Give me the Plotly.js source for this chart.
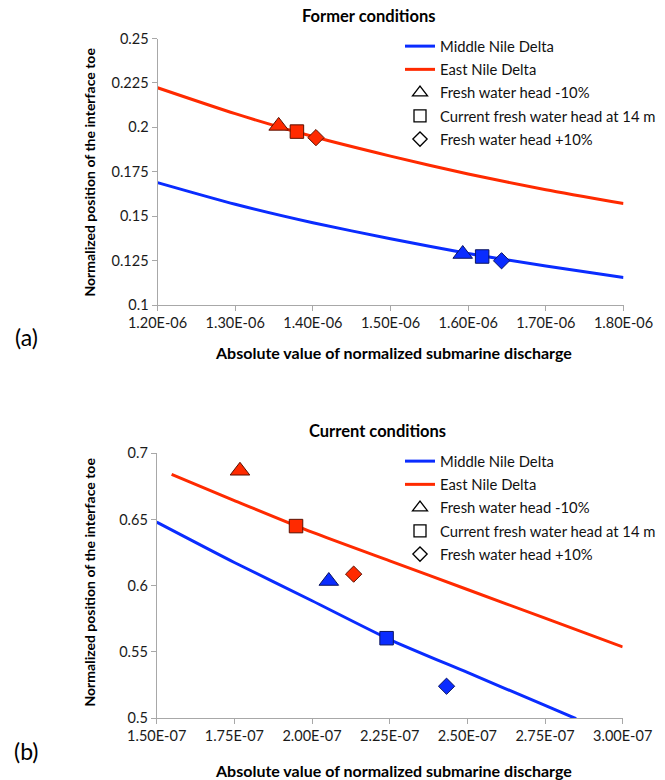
<!DOCTYPE html>
<html>
<head>
<meta charset="utf-8">
<script src="https://cdn.plot.ly/plotly-3.0.1.min.js"></script>
<style>
  html, body { margin: 0; padding: 0; background: #ffffff; }
  #chart { width: 665px; height: 780px; }
</style>
</head>
<body>
<div id="chart"></div>
<script>
// ---------- DATA ----------
// (a) Former conditions: discharge (x) and normalized toe position (y)
var formerCurveX = [1.20e-6, 1.30e-6, 1.40e-6, 1.50e-6, 1.60e-6, 1.70e-6, 1.80e-6];
var formerMiddleY = [0.1689, 0.1567, 0.1463, 0.1373, 0.1290, 0.1219, 0.1155];
var formerEastY   = [0.2223, 0.2077, 0.1948, 0.1838, 0.1737, 0.1649, 0.1571];

// scenario points: head -10%, current head 14 m, head +10%
var formerMiddlePtX = [1.593e-6, 1.618e-6, 1.643e-6];
var formerMiddlePtY = [0.1287, 0.1273, 0.1249];
var formerEastPtX   = [1.356e-6, 1.3795e-6, 1.404e-6];
var formerEastPtY   = [0.2008, 0.1976, 0.1942];

// (b) Current conditions
var currentMiddleX = [1.50e-7, 1.75e-7, 2.00e-7, 2.25e-7, 2.50e-7, 2.75e-7, 2.85e-7];
var currentMiddleY = [0.648, 0.6175, 0.5886, 0.5593, 0.5344, 0.5095, 0.4995];
var currentEastX   = [1.548e-7, 1.75e-7, 2.00e-7, 2.25e-7, 2.50e-7, 2.75e-7, 3.00e-7];
var currentEastY   = [0.684, 0.6643, 0.6404, 0.6187, 0.5971, 0.5754, 0.5537];

var currentMiddlePtX = [2.054e-7, 2.240e-7, 2.433e-7];
var currentMiddlePtY = [0.6035, 0.5603, 0.524];
var currentEastPtX   = [1.768e-7, 1.9485e-7, 2.134e-7];
var currentEastPtY   = [0.6868, 0.645, 0.6087];

// axis ticks
var formerXTicks  = [1.20e-6, 1.30e-6, 1.40e-6, 1.50e-6, 1.60e-6, 1.70e-6, 1.80e-6];
var currentXTicks = [1.50e-7, 1.75e-7, 2.00e-7, 2.25e-7, 2.50e-7, 2.75e-7, 3.00e-7];

var seriesNames = ['Middle Nile Delta', 'East Nile Delta'];
var scenarioNames = ['Fresh water head -10%', 'Current fresh water head at 14 m', 'Fresh water head +10%'];

// ---------- STYLE ----------
var FONT = 'Lato, "Open Sans", sans-serif';
var BLUE = '#0a2cff';
var RED = '#ff2a00';
var BLUE_EDGE = '#0b1560';
var RED_EDGE = '#5a1000';
var AXIS_GREY = '#a8a8a8';
var symbols = ['triangle-up', 'square', 'diamond'];
var symSizes = [17, 13.5, 12.5];

function excelExp(v) {
  var s = v.toExponential(2).toUpperCase();        // 1.20E-6
  return s.replace(/E([+-])(\d)$/, 'E$10$2');       // 1.20E-06
}

function lineTrace(x, y, name, color, xa, ya, leg, grp) {
  return {
    x: x, y: y, name: name, type: 'scatter', mode: 'lines',
    line: {color: color, width: 3, shape: 'spline', smoothing: 0.6},
    xaxis: xa, yaxis: ya, legend: leg, legendgroup: grp, hoverinfo: 'skip'
  };
}
function pointTrace(x, y, color, edge, xa, ya) {
  return {
    x: x, y: y, type: 'scatter', mode: 'markers', showlegend: false,
    marker: {symbol: symbols, size: symSizes, color: color, opacity: 1, line: {color: edge, width: 1}},
    xaxis: xa, yaxis: ya, hoverinfo: 'skip'
  };
}
function legendOnly(i, xa, ya, leg) {
  return {
    x: [null], y: [null], type: 'scatter', mode: 'markers', name: scenarioNames[i],
    marker: {symbol: symbols[i], size: [13, 12, 11][i], color: '#ffffff', opacity: 1, line: {color: '#000000', width: 1.3}},
    xaxis: xa, yaxis: ya, legend: leg, legendgroup: leg + 'g' + (i + 2), hoverinfo: 'skip'
  };
}

var data = [
  lineTrace(formerCurveX, formerMiddleY, seriesNames[0], BLUE, 'x', 'y', 'legend', 'lg0'),
  lineTrace(formerCurveX, formerEastY, seriesNames[1], RED, 'x', 'y', 'legend', 'lg1'),
  legendOnly(0, 'x', 'y', 'legend'),
  legendOnly(1, 'x', 'y', 'legend'),
  legendOnly(2, 'x', 'y', 'legend'),
  pointTrace(formerMiddlePtX, formerMiddlePtY, BLUE, BLUE_EDGE, 'x', 'y'),
  pointTrace(formerEastPtX, formerEastPtY, RED, RED_EDGE, 'x', 'y'),

  lineTrace(currentMiddleX, currentMiddleY, seriesNames[0], BLUE, 'x2', 'y2', 'legend2', 'l2g0'),
  lineTrace(currentEastX, currentEastY, seriesNames[1], RED, 'x2', 'y2', 'legend2', 'l2g1'),
  legendOnly(0, 'x2', 'y2', 'legend2'),
  legendOnly(1, 'x2', 'y2', 'legend2'),
  legendOnly(2, 'x2', 'y2', 'legend2'),
  pointTrace(currentMiddlePtX, currentMiddlePtY, BLUE, BLUE_EDGE, 'x2', 'y2'),
  pointTrace(currentEastPtX, currentEastPtY, RED, RED_EDGE, 'x2', 'y2')
];

var W = 665, H = 780;
function px(x) { return x / W; }
function py(y) { return (H - y) / H; }

var axisCommon = {
  showgrid: false, zeroline: false, showline: true, linecolor: AXIS_GREY, linewidth: 1,
  ticks: 'outside', ticklen: 5, tickwidth: 1, tickcolor: AXIS_GREY,
  tickfont: {family: FONT, size: 14.5, color: '#1a1a1a'}, fixedrange: true
};
function ax(extra) { return Object.assign({}, axisCommon, extra); }

var legendCommon = {
  font: {family: FONT, size: 14.8, color: '#111111'},
  bgcolor: 'rgba(0,0,0,0)', borderwidth: 0, xanchor: 'left', yanchor: 'top',
  traceorder: 'grouped', tracegroupgap: 1, itemclick: false, itemdoubleclick: false
};

function ann(text, x, y, opts) {
  return Object.assign({
    text: text, x: px(x), y: py(y), xref: 'paper', yref: 'paper',
    xanchor: 'center', yanchor: 'middle', showarrow: false,
    font: {family: FONT, size: 14, color: '#000000'}
  }, opts || {});
}

var layout = {
  width: W, height: H,
  margin: {l: 0, r: 0, t: 0, b: 0},
  paper_bgcolor: '#ffffff', plot_bgcolor: '#ffffff',
  showlegend: true,
  xaxis: ax({domain: [px(157.5), px(623.5)], range: [1.2e-6, 1.8e-6], tickmode: 'array',
             tickvals: formerXTicks, ticktext: formerXTicks.map(excelExp), anchor: 'y'}),
  yaxis: ax({domain: [py(305), py(38.5)], range: [0.1, 0.25], dtick: 0.025, tick0: 0.1, anchor: 'x'}),
  xaxis2: ax({domain: [px(156.7), px(622.7)], range: [1.5e-7, 3.0e-7], tickmode: 'array',
              tickvals: currentXTicks, ticktext: currentXTicks.map(excelExp), anchor: 'y2'}),
  yaxis2: ax({domain: [py(718), py(453.3)], range: [0.5, 0.7], dtick: 0.05, tick0: 0.5, anchor: 'x2'}),
  legend: Object.assign({}, legendCommon, {x: px(400), y: py(30)}),
  legend2: Object.assign({}, legendCommon, {x: px(400), y: py(445)}),
  annotations: [
    ann('<b>Former conditions</b>', 368, 16, {font: {family: FONT, size: 16.5, color: '#000'}}),
    ann('<b>Current conditions</b>', 377, 431, {font: {family: FONT, size: 16.5, color: '#000'}}),
    ann('<b>Absolute value of normalized submarine discharge</b>', 393, 353, {font: {family: FONT, size: 16, color: '#000'}}),
    ann('<b>Absolute value of normalized submarine discharge</b>', 393, 770, {font: {family: FONT, size: 16, color: '#000'}}),
    ann('<b>Normalized position of the interface toe</b>', 89, 172.5, {textangle: -90}),
    ann('<b>Normalized position of the interface toe</b>', 89, 582.5, {textangle: -90}),
    ann('(a)', 26, 337, {font: {family: FONT, size: 23, color: '#000'}}),
    ann('(b)', 26, 751, {font: {family: FONT, size: 23, color: '#000'}})
  ]
};

Plotly.newPlot('chart', data, layout, {displayModeBar: false, responsive: false, staticPlot: true});
</script>
</body>
</html>
